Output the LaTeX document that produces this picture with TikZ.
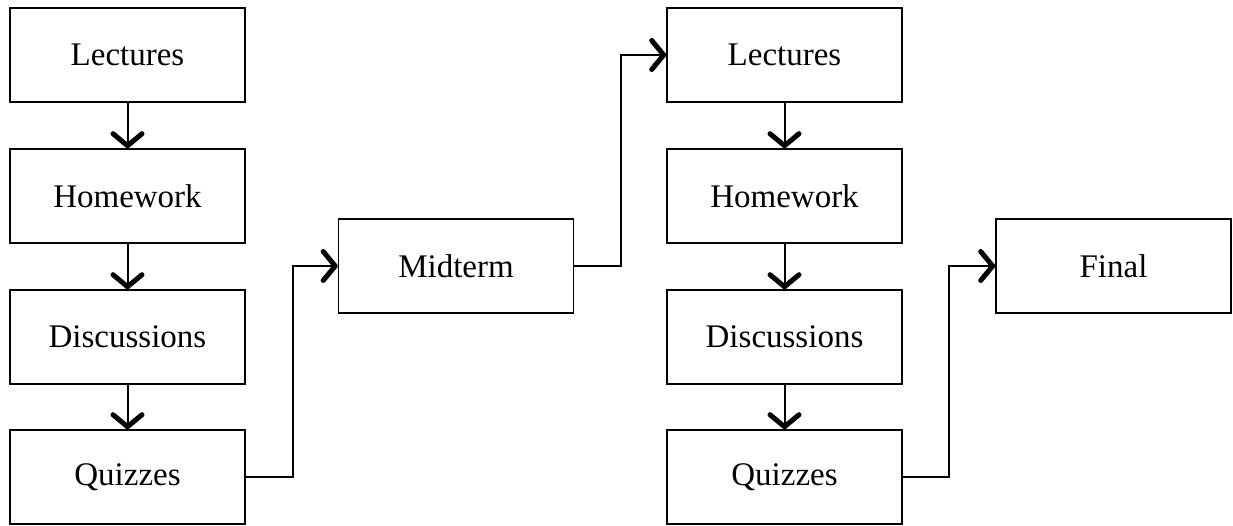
\documentclass[tikz,border=0pt]{standalone}
\usepackage{fontspec}
\setmainfont{Liberation Serif}
\usetikzlibrary{arrows.meta}
\begin{document}
\begin{tikzpicture}[x=1pt,y=-1pt,
  box/.style={draw,line width=1.6pt,minimum width=235pt,minimum height=94pt,inner sep=0pt,font=\fontsize{33}{38}\selectfont},
  conn/.style={line width=2pt,-{Straight Barb[length=12pt,width=29pt,line width=5pt,round]}}]
\useasboundingbox (0,0) rectangle (1233,525);
\node[box] (l1) at (127.5,55) {Lectures};
\node[box] (h1) at (127.5,196) {Homework};
\node[box] (d1) at (127.5,337) {Discussions};
\node[box] (q1) at (127.5,477) {Quizzes};
\node[box] (mid) at (456,266) {Midterm};
\node[box] (l2) at (784.5,55) {Lectures};
\node[box] (h2) at (784.5,196) {Homework};
\node[box] (d2) at (784.5,337) {Discussions};
\node[box] (q2) at (784.5,477) {Quizzes};
\node[box] (fin) at (1113.5,266) {Final};
\draw[conn] (l1) -- (h1);
\draw[conn] (h1) -- (d1);
\draw[conn] (d1) -- (q1);
\draw[conn] (q1.east) -- ++(47,0) |- (mid.west);
\draw[conn] (mid.east) -- ++(47,0) |- (l2.west);
\draw[conn] (l2) -- (h2);
\draw[conn] (h2) -- (d2);
\draw[conn] (d2) -- (q2);
\draw[conn] (q2.east) -- ++(46,0) |- (fin.west);
\end{tikzpicture}
\end{document}
